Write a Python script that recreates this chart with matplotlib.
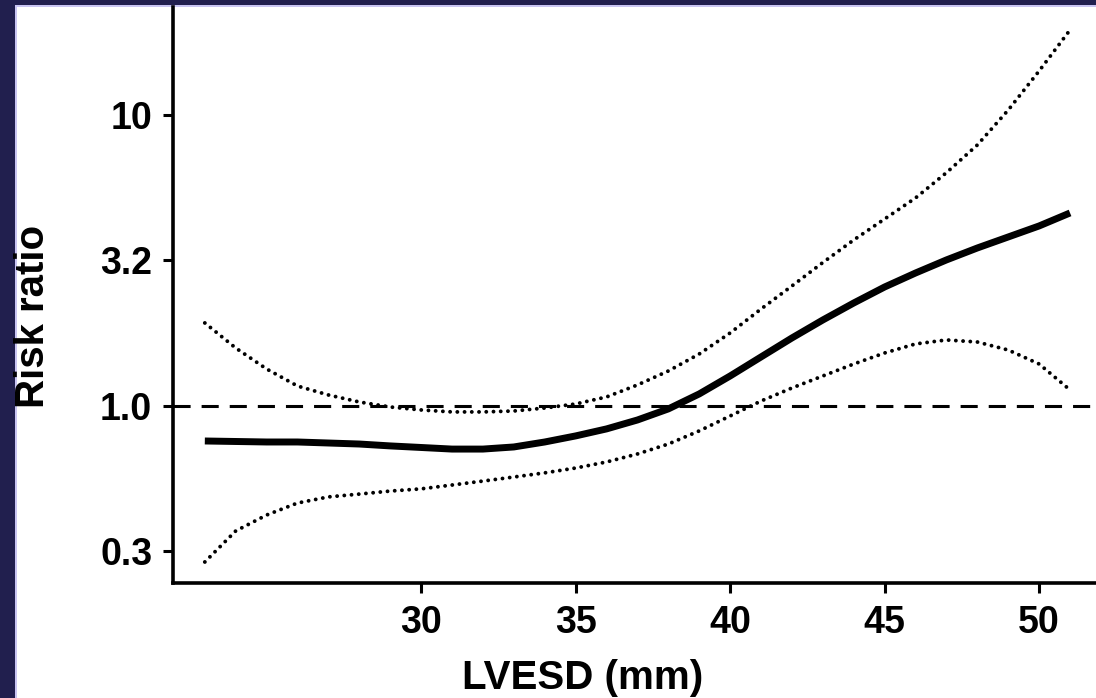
import matplotlib
matplotlib.use("Agg")
import matplotlib.pyplot as plt
from matplotlib.patches import Rectangle

# LVESD (mm) and risk ratio
lvesd = [23, 24, 25, 26, 27, 28, 29, 30, 31, 32, 33, 34, 35, 36, 37,
         38, 39, 40, 41, 42, 43, 44, 45, 46, 47, 48, 49, 50, 51]
rr = [0.758, 0.755, 0.752, 0.752, 0.746, 0.740, 0.729, 0.720, 0.711, 0.711,
      0.723, 0.752, 0.789, 0.834, 0.895, 0.977, 1.100, 1.268, 1.474, 1.713,
      1.975, 2.259, 2.564, 2.864, 3.176, 3.491, 3.809, 4.156, 4.606]
rr_upper = [1.929, 1.582, 1.340, 1.171, 1.091, 1.032, 0.992, 0.969, 0.954, 0.954,
            0.961, 0.984, 1.016, 1.074, 1.181, 1.319, 1.509, 1.782, 2.154, 2.585,
            3.111, 3.720, 4.392, 5.186, 6.335, 7.887, 10.40, 14.17, 19.60]
rr_lower = [0.291, 0.372, 0.422, 0.464, 0.487, 0.498, 0.510, 0.519, 0.535, 0.552,
            0.570, 0.589, 0.612, 0.642, 0.684, 0.740, 0.821, 0.924, 1.040, 1.153,
            1.268, 1.394, 1.521, 1.634, 1.686, 1.659, 1.557, 1.394, 1.135]

xticks = [30, 35, 40, 45, 50]
yticks = [10 ** -0.5, 1.0, 10 ** 0.5, 10.0]
ytick_labels = ["0.3", "1.0", "3.2", "10"]

plt.rcParams["font.family"] = ["Liberation Sans", "DejaVu Sans"]
plt.rcParams["font.weight"] = "bold"

W, H = 1096, 698
fig = plt.figure(figsize=(W / 100, H / 100), dpi=100)
fig.patch.set_facecolor("#211f4e")
# slide frame: lavender edge then white page
fig.patches.append(Rectangle((15 / W, 0), 1, 1 - 5 / H, transform=fig.transFigure,
                             facecolor="#c9c5f2", edgecolor="none", zorder=-2))
fig.patches.append(Rectangle((17 / W, 0), 1, 1 - 7 / H, transform=fig.transFigure,
                             facecolor="white", edgecolor="none", zorder=-1))

ax = fig.add_axes([173 / W, (H - 583) / H, (W - 173) / W, 576 / H])
ax.set_zorder(2)
ax.set_facecolor("none")

ax.axhline(1.0, color="black", lw=2.2, linestyle=(0, (5.6, 3.6)), zorder=1)
dots = (0, (0.01, 1.85))
ax.plot(lvesd, rr_upper, color="black", lw=2.8, linestyle=dots,
        dash_capstyle="round", zorder=2)
ax.plot(lvesd, rr_lower, color="black", lw=2.8, linestyle=dots,
        dash_capstyle="round", zorder=2)
ax.plot(lvesd, rr, color="black", lw=5, solid_capstyle="butt",
        solid_joinstyle="round", zorder=3)

ax.set_yscale("log")
ax.set_xlim(21.97, 51.84)
ax.set_ylim(0.2464, 23.5)
ax.set_xticks(xticks)
ax.set_xticklabels([str(t) for t in xticks])
ax.set_yticks(yticks)
ax.set_yticklabels(ytick_labels)
ax.minorticks_off()
ax.tick_params(axis="both", which="major", labelsize=27, width=2.2, length=7,
               direction="out", color="black")
ax.tick_params(axis="x", pad=9)
ax.tick_params(axis="y", pad=8)

for side in ["top", "right"]:
    ax.spines[side].set_visible(False)
for side in ["left", "bottom"]:
    ax.spines[side].set_linewidth(2.6)

fig.text(33 / W, 1 - 316 / H, "Risk ratio", rotation=90, ha="center", va="center",
         fontsize=29, fontweight="bold")
fig.text(583 / W, 1 - 678 / H, "LVESD (mm)", ha="center", va="center",
         fontsize=29, fontweight="bold")

fig.savefig("out.png", dpi=100, facecolor=fig.get_facecolor())
